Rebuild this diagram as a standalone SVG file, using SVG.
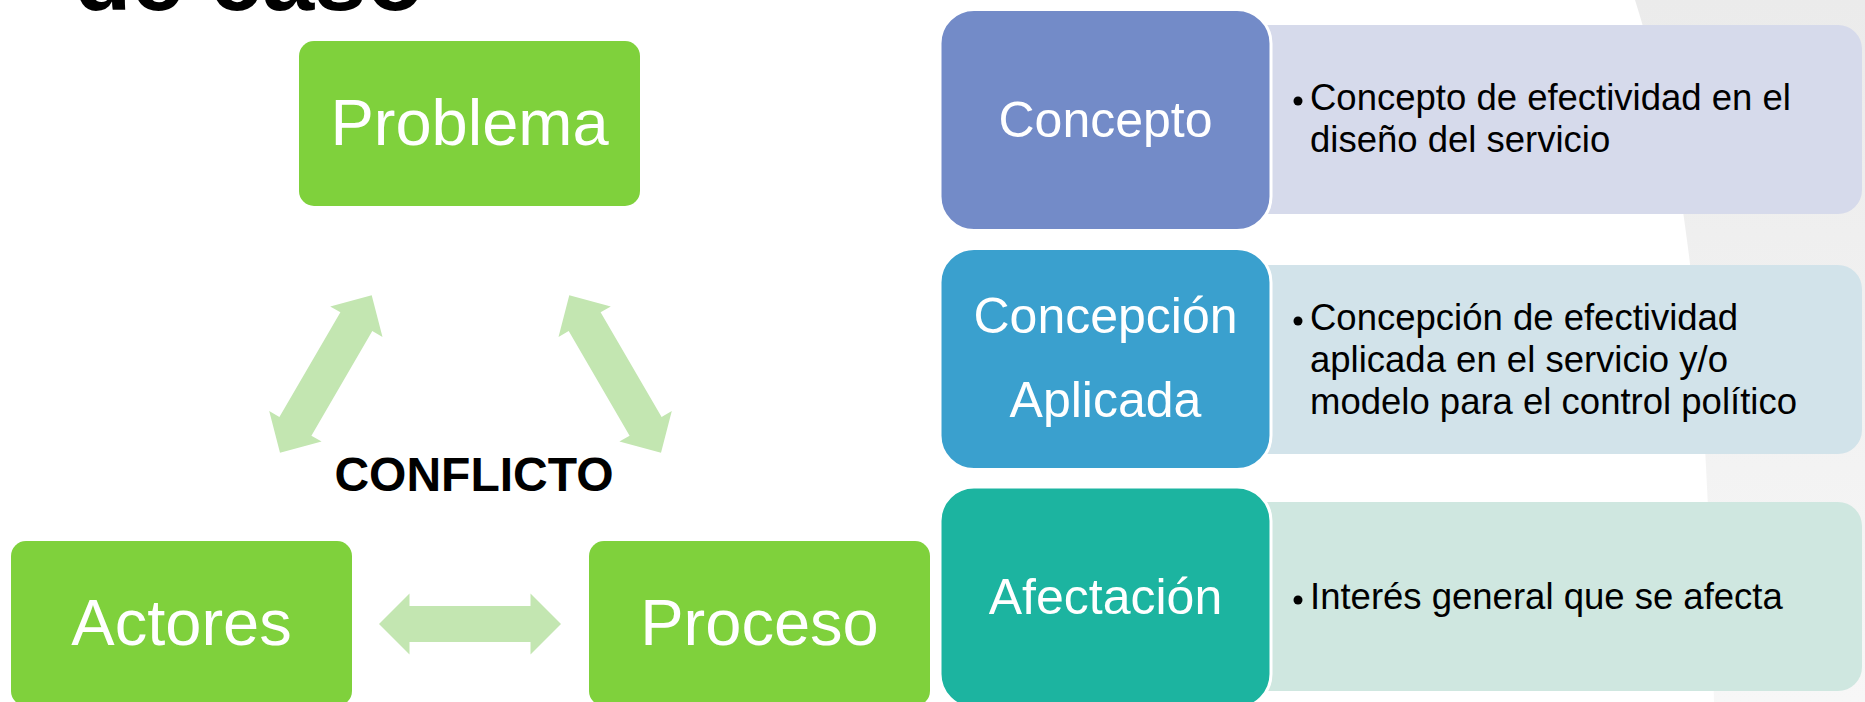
<svg xmlns="http://www.w3.org/2000/svg" width="1865" height="702" viewBox="0 0 1865 702">
  <defs>
    <linearGradient id="bgGrad" x1="0" y1="0" x2="0" y2="1">
      <stop offset="0" stop-color="#EBEBEB"/>
      <stop offset="1" stop-color="#F7F7F7"/>
    </linearGradient>
    <style>
      .green { fill: #7FD13C; }
      .gtext { font-family: "Liberation Sans", Arial, sans-serif; font-size: 65px; fill: #FFFFFF; text-anchor: middle; }
      .arrow { fill: #C3E6B1; }
      .box { stroke: #FFFFFF; stroke-width: 3; }
      .btext { font-family: "Liberation Sans", Arial, sans-serif; font-size: 50px; fill: #FFFFFF; text-anchor: middle; }
      .ptext { font-family: "Liberation Sans", Arial, sans-serif; font-size: 36.5px; fill: #000000; }
      .bullet { fill: #000000; }
    </style>
  </defs>

  <rect x="0" y="0" width="1865" height="702" fill="#FFFFFF"/>
  <path d="M1635,0 C1682,150 1706,300 1714,702 L1865,702 L1865,0 Z" fill="url(#bgGrad)"/>

  <text x="74" y="10" font-family="Liberation Sans, Arial, sans-serif" font-weight="bold" font-size="94" fill="#000000">de caso</text>

  <g id="connectors">
    <polygon class="arrow" points="371.7,295.3 382.5,336.9 372.3,331 311.4,435.7 321.6,441.6 280,452.7 269.2,411.1 279.4,417 340.4,312.3 330.2,306.4"/>
    <polygon class="arrow" points="569.3,295.3 558.5,336.9 568.7,331 629.6,435.7 619.4,441.6 661,452.7 671.8,411.1 661.6,417 600.6,312.3 610.8,306.4"/>
    <polygon class="arrow" points="379,624 409.5,593.5 409.5,606 530.5,606 530.5,593.5 561,624 530.5,654.5 530.5,642 409.5,642 409.5,654.5"/>
  </g>

  <g id="conflicto">
    <text x="474" y="491" font-family="Liberation Sans, Arial, sans-serif" font-weight="bold" font-size="48" fill="#000000" text-anchor="middle">CONFLICTO</text>
  </g>

  <g id="problema">
    <rect class="green" x="299" y="41" width="341" height="165" rx="15"/>
    <text class="gtext" x="469.5" y="145">Problema</text>
  </g>
  <g id="actores">
    <rect class="green" x="11" y="541" width="341" height="165" rx="15"/>
    <text class="gtext" x="181.5" y="645">Actores</text>
  </g>
  <g id="proceso">
    <rect class="green" x="589" y="541" width="341" height="165" rx="15"/>
    <text class="gtext" x="759.5" y="645">Proceso</text>
  </g>

  <g id="concepto">
    <rect x="1240" y="25" width="622" height="189" rx="24" fill="#D6DAEB"/>
    <rect class="box" x="940" y="9.5" width="331" height="221" rx="34" fill="#738BC8"/>
    <text class="btext" x="1105.5" y="137">Concepto</text>
    <circle class="bullet" cx="1298" cy="101" r="4.5"/>
    <text class="ptext" x="1310" y="110">Concepto de efectividad en el</text>
    <text class="ptext" x="1310" y="152">diseño del servicio</text>
  </g>

  <g id="concepcion">
    <rect x="1240" y="265" width="622" height="189" rx="24" fill="#D2E3EA"/>
    <rect class="box" x="940" y="248.5" width="331" height="221" rx="34" fill="#3AA0CE"/>
    <text class="btext" x="1105.5" y="333">Concepción</text>
    <text class="btext" x="1105.5" y="417">Aplicada</text>
    <circle class="bullet" cx="1298" cy="321" r="4.5"/>
    <text class="ptext" x="1310" y="330">Concepción de efectividad</text>
    <text class="ptext" x="1310" y="372">aplicada en el servicio y/o</text>
    <text class="ptext" x="1310" y="414">modelo para el control político</text>
  </g>

  <g id="afectacion">
    <rect x="1240" y="502" width="622" height="189" rx="24" fill="#CFE7E0"/>
    <rect class="box" x="940" y="487" width="331" height="221" rx="34" fill="#1CB4A0"/>
    <text class="btext" x="1105.5" y="614">Afectación</text>
    <circle class="bullet" cx="1298" cy="600" r="4.5"/>
    <text class="ptext" x="1310" y="609">Interés general que se afecta</text>
  </g>
</svg>
